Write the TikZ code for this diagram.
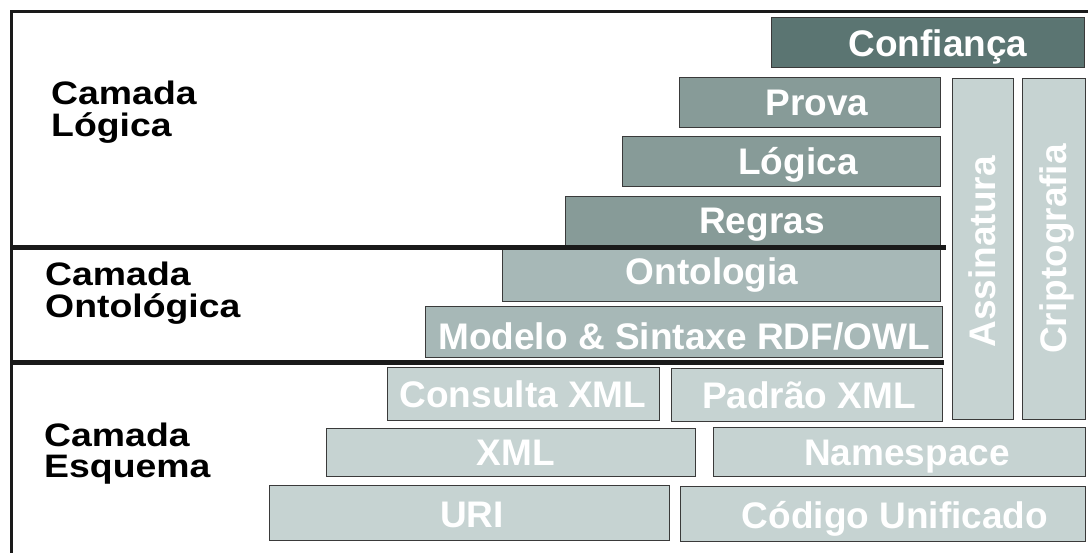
\documentclass[tikz,border=0pt]{standalone}
\usepackage{fontspec}
\setmainfont{Liberation Sans}
\definecolor{trustfill}{HTML}{5B7572}
\definecolor{logicfill}{HTML}{879B98}
\definecolor{ontofill}{HTML}{A7B8B7}
\definecolor{basefill}{HTML}{C6D3D2}
\definecolor{boxline}{HTML}{3A3A3A}
\definecolor{ruleblack}{HTML}{1A1A1A}
\begin{document}
\begin{tikzpicture}[x=1pt,y=-1pt,
  layerbox/.style={draw=boxline, line width=1pt, inner sep=0pt, outer sep=0pt, anchor=north west},
  boxtext/.style={text=white, font=\bfseries\fontsize{37}{40}\selectfont, inner sep=0pt, anchor=base},
  sidetext/.style={text=black, font=\bfseries\fontsize{32.5}{32}\selectfont, inner sep=0pt, align=left, anchor=base west, xscale=1.15},
  framerule/.style={draw=ruleblack, line width=3.5pt},
  layerrule/.style={draw=ruleblack, line width=5pt}]
\useasboundingbox (0,0) rectangle (1088,553);
\fill[white] (0,0) rectangle (1088,553);

% logic layer
\node[layerbox, fill=trustfill, minimum width=313pt, minimum height=50pt] (conf) at (771,18) {};
\node[layerbox, fill=logicfill, minimum width=261pt, minimum height=50pt] (prova) at (679,78) {};
\node[layerbox, fill=logicfill, minimum width=318pt, minimum height=50pt] (logica) at (622,137) {};
\node[layerbox, fill=logicfill, minimum width=375pt, minimum height=49pt] (regras) at (565,197) {};

% ontology layer
\node[layerbox, fill=ontofill, minimum width=438pt, minimum height=52pt] (onto) at (502,250) {};
\node[layerbox, fill=ontofill, minimum width=517pt, minimum height=51pt] (modelo) at (425,307) {};

% schema layer
\node[layerbox, fill=basefill, minimum width=272pt, minimum height=53pt] (consulta) at (387,368) {};
\node[layerbox, fill=basefill, minimum width=271pt, minimum height=53pt] (padrao) at (671,369) {};
\node[layerbox, fill=basefill, minimum width=369pt, minimum height=47pt] (xml) at (326,429) {};
\node[layerbox, fill=basefill, minimum width=372pt, minimum height=48pt] (namespace) at (713,428) {};
\node[layerbox, fill=basefill, minimum width=400pt, minimum height=55pt] (uri) at (269,485) {};
\node[layerbox, fill=basefill, minimum width=405pt, minimum height=55pt] (codigo) at (680,486) {};

% vertical columns
\node[layerbox, fill=basefill, minimum width=61pt, minimum height=341pt] (assin) at (952,79) {};
\node[layerbox, fill=basefill, minimum width=63pt, minimum height=341pt] (cripto) at (1022,79) {};

% box labels
\node[boxtext] (tconf) at (938,57) {Confiança};
\node[boxtext] (tprova) at (817,116) {Prova};
\node[boxtext] (tlogica) at (798,175) {Lógica};
\node[boxtext] (tregras) at (762,234) {Regras};
\node[boxtext] (tonto) at (712,285) {Ontologia};
\node[boxtext] (tmodelo) at (684,350) {Modelo \& Sintaxe RDF/OWL};
\node[boxtext] (tconsulta) at (523,408) {Consulta XML};
\node[boxtext] (tpadrao) at (809,409) {Padrão XML};
\node[boxtext] (txml) at (516,466) {XML};
\node[boxtext] (tnamespace) at (907,466) {Namespace};
\node[boxtext] (turi) at (472,527) {URI};
\node[boxtext] (tcodigo) at (895,528) {Código Unificado};
\node[boxtext, rotate=90] (tassin) at (995,252) {Assinatura};
\node[boxtext, rotate=90] (tcripto) at (1066,249) {Criptografia};

% layer names (anchored on the baseline of the second line)
\node[sidetext] (lcl) at (51,137) {Camada\\Lógica};
\node[sidetext] (lco) at (45,318) {Camada\\Ontológica};
\node[sidetext] (lce) at (44,478) {Camada\\Esquema};

% frame and layer separators
\draw[framerule, line join=miter] (1088,11.5) -- (11.5,11.5) -- (11.5,553);
\draw[layerrule] (11.5,248) -- (946,248);
\draw[layerrule] (11.5,363) -- (944,363);
\end{tikzpicture}
\end{document}
